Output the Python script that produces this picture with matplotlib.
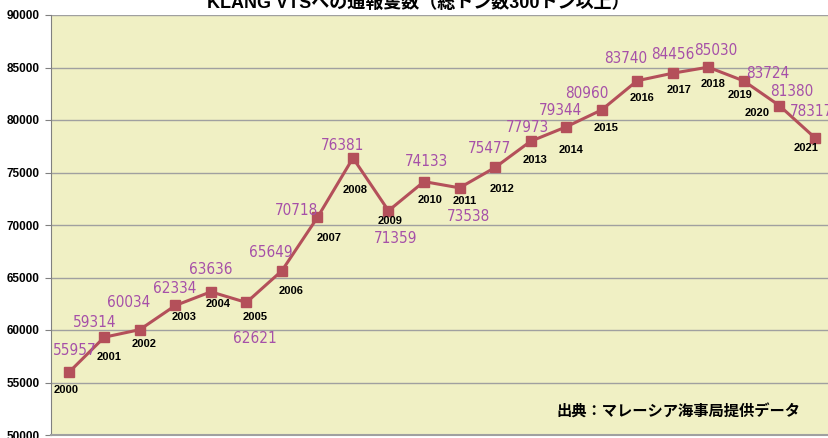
import matplotlib
matplotlib.use("Agg")
import matplotlib.pyplot as plt

# Data
years = [2000, 2001, 2002, 2003, 2004, 2005, 2006, 2007, 2008, 2009, 2010,
         2011, 2012, 2013, 2014, 2015, 2016, 2017, 2018, 2019, 2020, 2021]
reports = [55957, 59314, 60034, 62334, 63636, 62621, 65649, 70718, 76381,
           71359, 74133, 73538, 75477, 77973, 79344, 80960, 83740, 84456,
           85030, 83724, 81380, 78317]
y_ticks = [50000, 55000, 60000, 65000, 70000, 75000, 80000, 85000, 90000]

title = "KLANG VTSへの通報隻数（総トン数300トン以上）"
source = "出典：マレーシア海事局提供データ"

# label offsets in pixels (dx, dy) relative to each marker
value_offsets = [(6, 22), (-10, 15), (-11, 27), (-1, 17), (0, 22), (8, -36),
                 (-11, 18), (-21, 7), (-10, 12), (7, -28), (2, 20), (9, -29),
                 (-6, 19), (-3, 14), (-6, 16), (-15, 16), (-11, 22), (0, 19),
                 (8, 17), (24, 7), (12, 14), (-3, 26)]
year_offsets = [(-3, -18), (5, -20), (4, -14), (9, -12), (7, -12), (9, -15),
                (9, -20), (12, -21), (2, -32), (2, -10), (6, -18), (5, -13),
                (7, -22), (4, -19), (5, -23), (4, -18), (5, -17), (6, -17),
                (5, -17), (-4, -14), (-22, -7), (-9, -10)]

plt.rcParams["font.family"] = ["Liberation Sans", "Noto Sans CJK JP", "DejaVu Sans"]

W, H = 829, 438
fig = plt.figure(figsize=(W / 100, H / 100), dpi=100)
ax = fig.add_axes([51 / W, 3 / H, (W - 51) / W, 420 / H])
ax.set_facecolor("#f0f0c4")

line_color = "#b4505a"
value_color = "#a650a8"

xs = list(range(len(years)))
ax.plot(xs, reports, color=line_color, linewidth=2.2, marker="s",
        markersize=7, markerfacecolor=line_color, markeredgecolor=line_color,
        zorder=3)

for i, (yr, v) in enumerate(zip(years, reports)):
    ax.annotate(str(v), (i, v), xytext=value_offsets[i],
                textcoords="offset pixels", ha="center", va="center",
                color=value_color, fontsize=11, family="DejaVu Sans",
                fontstretch="condensed", zorder=4)
    ax.annotate(str(yr), (i, v), xytext=year_offsets[i],
                textcoords="offset pixels", ha="center", va="center",
                color="black", fontsize=8, fontweight="bold", zorder=4)

ax.set_xlim(-0.5, 21.4)
ax.set_ylim(50000, 90000)
ax.set_xticks([])
ax.set_yticks(y_ticks)
ax.set_yticklabels([str(t) for t in y_ticks], fontsize=8.5, fontweight="bold")
ax.tick_params(axis="y", length=4, color="#808080", pad=4)
ax.grid(axis="y", color="#a0a0a0", linewidth=1)
ax.set_axisbelow(True)

for side in ["top", "right"]:
    ax.spines[side].set_visible(False)
ax.spines["left"].set_color("#808080")
ax.spines["bottom"].set_color("#a0a0a0")
ax.spines["bottom"].set_linewidth(1.5)

fig.text(0.505, 1 - 8 / H, title, ha="center", va="baseline",
         fontsize=13, fontweight="bold",
         family=["Liberation Sans", "Noto Sans CJK JP"])
ax.text(800 / W, 1 - 412 / H, source, transform=fig.transFigure,
        ha="right", va="center", fontsize=11, fontweight="bold",
        family=["Noto Sans CJK JP"])

fig.savefig("out.png", dpi=100, facecolor="white")
